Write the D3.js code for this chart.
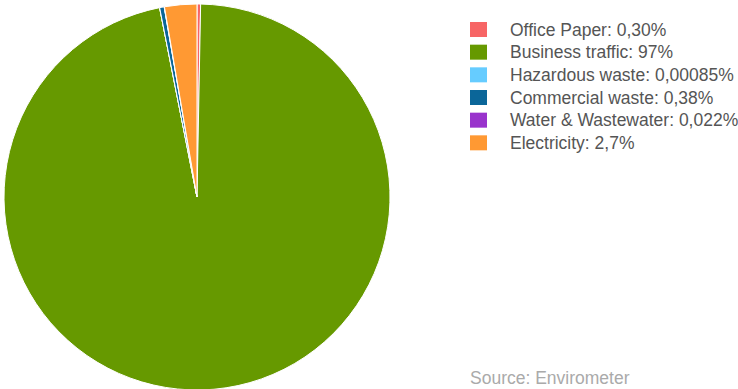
<!DOCTYPE html>
<html>
<head>
<meta charset="utf-8">
<script src="https://cdn.jsdelivr.net/npm/d3@7"></script>
<style>
  body { margin: 0; background: #fff; }
  svg { display: block; font-family: "Liberation Sans", Arial, sans-serif; }
</style>
</head>
<body>
<svg width="738" height="389"></svg>
<script>
// Chart data
var categories = ['Office Paper', 'Business traffic', 'Hazardous waste', 'Commercial waste', 'Water & Wastewater', 'Electricity'];
var shares = [0.30, 96.6, 0.00085, 0.38, 0.022, 2.7];
var shareLabels = ['0,30%', '97%', '0,00085%', '0,38%', '0,022%', '2,7%'];
var colors = ['#f76565', '#669900', '#66ccff', '#0b6699', '#9933cc', '#ff9933'];

var svg = d3.select('svg');

var cx = 197, cy = 197, radius = 193;

var rows = categories.map(function(c, i) {
    return {name: c, value: shares[i], label: shareLabels[i], color: colors[i]};
});

var pie = d3.pie()
    .sort(null)
    .value(function(d) { return d.value; });

var arc = d3.arc()
    .innerRadius(0)
    .outerRadius(radius);

var pieG = svg.append('g')
    .attr('transform', 'translate(' + [cx, cy] + ')');

pieG.selectAll('path')
    .data(pie(rows))
    .enter()
    .append('path')
    .attr('d', arc)
    .attr('fill', function(d) { return d.data.color; })
    .attr('stroke', '#fff')
    .attr('stroke-width', 1);

// Legend
var legendY = d3.scaleBand()
    .domain(categories)
    .range([18, 154]);

var legendG = svg.append('g')
    .attr('transform', 'translate(470,0)');

var item = legendG.selectAll('.item')
    .data(rows)
    .enter()
    .append('g')
    .attr('class', 'item')
    .attr('transform', function(d) { return 'translate(0,' + legendY(d.name) + ')'; });

item.append('rect')
    .attr('x', 0)
    .attr('y', 4)
    .attr('width', 17)
    .attr('height', 15)
    .attr('fill', function(d) { return d.color; });

item.append('text')
    .attr('x', 40)
    .attr('y', 17.5)
    .attr('font-size', 17.5)
    .attr('fill', '#555')
    .text(function(d) { return d.name + ': ' + d.label; });

svg.append('text')
    .attr('x', 470)
    .attr('y', 384)
    .attr('font-size', 17.5)
    .attr('fill', '#aaa')
    .text('Source: Envirometer');
</script>
</body>
</html>
